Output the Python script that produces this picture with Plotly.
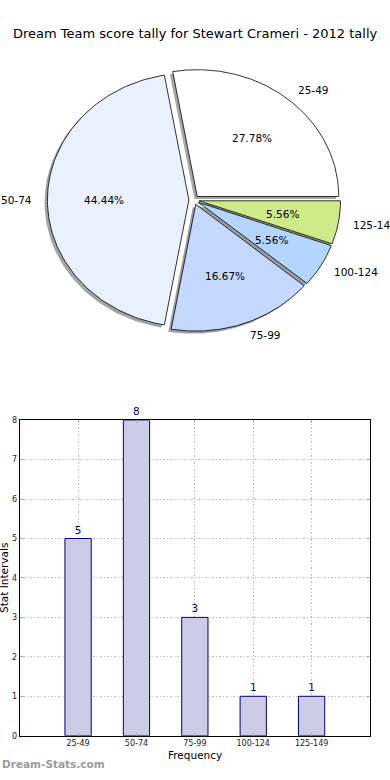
import numpy as np
import plotly.graph_objects as go

# ---------------- data ----------------
categories = ["25-49", "50-74", "75-99", "100-124", "125-149"]
counts = [5, 8, 3, 1, 1]
pie_colors = ["#ffffff", "#eaf1fe", "#c5d8fd", "#b3d5fe", "#ceeb8a"]
explode = [0.036, 0.036, 0.036, 0.036, 0.036]
title_text = "Dream Team score tally for Stewart Crameri - 2012 tally"
x_title = "Frequency"
y_title = "Stat Intervals"
watermark = "Dream-Stats.com"

# ---------------- layout constants (pixels) ----------------
W, H = 390, 780
FONT = "DejaVu Sans"
pie_cx, pie_cy = 194.0, 198.3
pie_rx, pie_ry = 141.5, 128.3
pie_top_px = 390
bar_left, bar_right = 19.7, 370.0
bar_top, bar_bottom = 421.0, 740.3

fig = go.Figure()

total = float(sum(counts))
fracs = [c / total for c in counts]
starts = np.concatenate([[0.0], np.cumsum(fracs)[:-1]]) * 360.0
ends = np.cumsum(fracs) * 360.0


def wedge(theta1, theta2, ox, oy):
    t = np.radians(np.linspace(theta1, theta2, 120))
    xs = np.concatenate([[ox], ox + np.cos(t), [ox]])
    ys = np.concatenate([[oy], oy + np.sin(t), [oy]])
    return xs, ys


def hex_to_rgb(h):
    h = h.lstrip("#")
    return tuple(int(h[i:i + 2], 16) for i in (0, 2, 4))


offsets = []
for i in range(len(counts)):
    tm = np.radians((starts[i] + ends[i]) / 2.0)
    offsets.append((explode[i] * np.cos(tm), explode[i] * np.sin(tm), tm))

# shadows (behind all wedges)
for i in range(len(counts)):
    ox, oy, _ = offsets[i]
    xs, ys = wedge(starts[i], ends[i], ox - 0.02, oy - 0.02)
    r, g, b = hex_to_rgb(pie_colors[i])
    fig.add_trace(go.Scatter(
        x=xs, y=ys, mode="lines", fill="toself",
        fillcolor=f"rgba({int(r*0.3)},{int(g*0.3)},{int(b*0.3)},0.5)",
        line=dict(width=0), hoverinfo="skip", showlegend=False,
        xaxis="x", yaxis="y"))

# wedges
for i in range(len(counts)):
    ox, oy, _ = offsets[i]
    xs, ys = wedge(starts[i], ends[i], ox, oy)
    fig.add_trace(go.Scatter(
        x=xs, y=ys, mode="lines", fill="toself",
        fillcolor=pie_colors[i],
        line=dict(color="black", width=0.8), hoverinfo="skip",
        showlegend=False, name=categories[i], xaxis="x", yaxis="y"))

annotations = []
for i in range(len(counts)):
    ox, oy, tm = offsets[i]
    lx = ox + 1.1 * np.cos(tm)
    ly = oy + 1.1 * np.sin(tm)
    annotations.append(dict(
        x=lx, y=ly, xref="x", yref="y", text=categories[i], showarrow=False,
        xanchor="left" if lx > 0 else "right", yanchor="middle",
        font=dict(family=FONT, size=10.5, color="black"), borderpad=0))
    px_ = ox + 0.6 * np.cos(tm)
    py_ = oy + 0.6 * np.sin(tm)
    annotations.append(dict(
        x=px_, y=py_, xref="x", yref="y", text=f"{fracs[i]*100:.2f}%",
        showarrow=False, xanchor="center", yanchor="middle",
        font=dict(family=FONT, size=10.5, color="black"), borderpad=0))

# ---------------- bar chart ----------------
fig.add_trace(go.Bar(
    x=categories, y=counts, xaxis="x2", yaxis="y2", width=0.45,
    marker=dict(color="#cccce6", line=dict(color="#000080", width=1)),
    text=[str(c) for c in counts], textposition="outside",
    textfont=dict(family=FONT, size=10.5, color="#000080"),
    cliponaxis=False, showlegend=False, hoverinfo="skip"))

annotations.append(dict(
    x=0.5, y=1 - 30 / H, xref="paper", yref="paper", text=title_text,
    showarrow=False, xanchor="center", yanchor="middle",
    font=dict(family=FONT, size=13, color="black")))
annotations.append(dict(
    x=(bar_left + bar_right) / 2 / W, y=1 - 760 / H, xref="paper", yref="paper",
    text=x_title, showarrow=False, xanchor="center", yanchor="middle",
    font=dict(family=FONT, size=10.5, color="black")))
annotations.append(dict(
    x=4 / W, y=1 - (bar_top + bar_bottom) / 2 / H, xref="paper", yref="paper",
    text=y_title, showarrow=False, textangle=-90, xanchor="center",
    yanchor="middle", font=dict(family=FONT, size=10.5, color="black")))
annotations.append(dict(
    x=0, y=1 - 769 / H, xref="paper", yref="paper", text=f"<b>{watermark}</b>",
    showarrow=False, xanchor="left", yanchor="middle",
    font=dict(family=FONT, size=10.5, color="#9a9a9a")))

grid_style = dict(showgrid=True, gridcolor="#bdbdbd", griddash="1.5px,2px",
                  gridwidth=1, showline=True, linecolor="black", linewidth=1,
                  mirror="ticks", ticks="inside", ticklen=3, tickcolor="#aaa",
                  tickfont=dict(family=FONT, size=8, color="#222"),
                  zeroline=False)

pie_dom_bottom = 1 - pie_top_px / H
fig.update_layout(
    width=W, height=H, margin=dict(l=0, r=0, t=0, b=0),
    paper_bgcolor="white", plot_bgcolor="white",
    font=dict(family=FONT, size=8, color="#222"),
    annotations=annotations,
    xaxis=dict(domain=[0, 1], range=[(0 - pie_cx) / pie_rx, (W - pie_cx) / pie_rx],
               visible=False, fixedrange=True),
    yaxis=dict(domain=[pie_dom_bottom, 1],
               range=[-(pie_top_px - pie_cy) / pie_ry, pie_cy / pie_ry],
               visible=False, fixedrange=True),
    xaxis2=dict(domain=[bar_left / W, bar_right / W], anchor="y2",
                range=[-1, 5], **grid_style),
    yaxis2=dict(domain=[1 - bar_bottom / H, 1 - bar_top / H], anchor="x2",
                range=[0, 8], dtick=1, **grid_style),
    bargap=0,
)

fig.write_html("out.html", config={"displayModeBar": False, "staticPlot": True},
               post_script="document.body.style.margin='0px';"
                           "document.body.style.overflow='hidden';")
